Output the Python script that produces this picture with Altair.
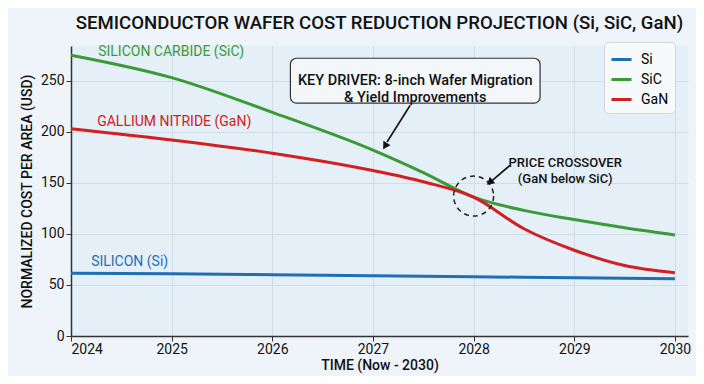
import altair as alt
import pandas as pd

years = [2024, 2025, 2026, 2027, 2027.5, 2028, 2028.5, 2029, 2029.5, 2030]
si = [61.5, 61, 60, 59, 58.5, 58, 57.5, 57, 56.5, 56]
sic = [275, 253, 219, 182, 160, 136, 123, 114, 106, 99]
gan = [203, 192, 179, 162, 151, 136, 105, 84, 69, 62]
series = ["Si", "SiC", "GaN"]
colors = ["#1f6fb4", "#3a9a35", "#d02020"]

rows = []
for name, vals in zip(series, [si, sic, gan]):
    for x, v in zip(years, vals):
        rows.append({"year": x, "cost": v, "series": name})
df = pd.DataFrame(rows)

FONT = "Roboto"

xs = alt.Scale(domain=[2024, 2030.13], nice=False, zero=False)
ys = alt.Scale(domain=[0, 284], nice=False)

lines = alt.Chart(df).mark_line(strokeWidth=3, interpolate="monotone").encode(
    x=alt.X("year:Q", scale=xs,
            axis=alt.Axis(values=[2024, 2025, 2026, 2027, 2028, 2029, 2030], format="d",
                          title="TIME (Now - 2030)", titlePadding=2, labelPadding=1)),
    y=alt.Y("cost:Q", scale=ys,
            axis=alt.Axis(values=[0, 50, 100, 150, 200, 250],
                          title="NORMALIZED COST PER AREA (USD)", titlePadding=6)),
    color=alt.Color("series:N", scale=alt.Scale(domain=series, range=colors),
                    legend=alt.Legend(title=None, orient="none", legendX=533, legendY=-4,
                                      symbolType="stroke", symbolStrokeWidth=3, symbolSize=400,
                                      labelFontSize=14, labelFont=FONT, fillColor="#f7fafc",
                                      strokeColor="#cfd6dc", cornerRadius=4, padding=6,
                                      rowPadding=1, labelOffset=8)),
)

# series labels
lab_txt = ["SILICON CARBIDE (SiC)", "GALLIUM NITRIDE (GaN)", "SILICON (Si)"]
lab_x = [2024.27, 2024.26, 2024.2]
lab_y = [278, 210, 72]
lab_c = ["#3a9a35", "#d02020", "#1f6fb4"]
labels = alt.Chart(pd.DataFrame({"t": lab_txt, "x": lab_x, "y": lab_y, "c": lab_c})).mark_text(
    align="left", baseline="middle", fontSize=14, font=FONT
).encode(x=alt.X("x:Q", scale=xs), y=alt.Y("y:Q", scale=ys), text="t:N",
         color=alt.Color("c:N", scale=None))

# key driver box
box = alt.Chart(pd.DataFrame({"x": [2026.18], "x2": [2028.66], "y": [272], "y2": [228]})).mark_rect(
    fill="#f4f7fa", stroke="#333333", strokeWidth=1.2, cornerRadius=6
).encode(x=alt.X("x:Q", scale=xs), x2="x2:Q", y=alt.Y("y:Q", scale=ys), y2="y2:Q")

box_text = alt.Chart(pd.DataFrame({"x": [2027.42], "y": [250],
                                   "t": ["KEY DRIVER: 8-inch Wafer Migration\n& Yield Improvements"]})).mark_text(
    align="center", baseline="middle", fontSize=14.5, font=FONT, fontWeight=500, lineBreak="\n",
    lineHeight=17, color="#111111"
).encode(x=alt.X("x:Q", scale=xs), y=alt.Y("y:Q", scale=ys), text="t:N")

cross_text = alt.Chart(pd.DataFrame({"x": [2028.91], "y": [169],
                                     "t": ["PRICE CROSSOVER\n(GaN below SiC)"]})).mark_text(
    align="center", baseline="middle", fontSize=13, font=FONT, fontWeight=500, lineBreak="\n",
    lineHeight=16, color="#111111"
).encode(x=alt.X("x:Q", scale=xs), y=alt.Y("y:Q", scale=ys), text="t:N")

circle = alt.Chart(pd.DataFrame({"x": [2028.0], "y": [137]})).mark_point(
    shape="circle", size=1600, filled=False, stroke="#222222", strokeWidth=1.5, strokeDash=[5, 4], opacity=1
).encode(x=alt.X("x:Q", scale=xs), y=alt.Y("y:Q", scale=ys))

# arrows
arr = pd.DataFrame({"x": [2027.37, 2028.36], "y": [226, 167], "x2": [2027.14, 2028.18], "y2": [190, 152],
                    "hx": [2027.12, 2028.16], "hy": [186, 150.5], "ang": [212, 230]})
shafts = alt.Chart(arr).mark_rule(color="#111111", strokeWidth=1.6).encode(
    x=alt.X("x:Q", scale=xs), y=alt.Y("y:Q", scale=ys), x2="x2:Q", y2="y2:Q")
heads = alt.Chart(arr).mark_point(shape="triangle-up", filled=True, size=70, color="#111111", opacity=1).encode(
    x=alt.X("hx:Q", scale=xs), y=alt.Y("hy:Q", scale=ys), angle=alt.Angle("ang:Q", scale=None))

chart = alt.layer(box, box_text, lines, labels, circle, shafts, heads, cross_text).properties(
    width=617, height=290,
    autosize=alt.AutoSizeParams(type="none"),
    padding={"left": 63, "top": 38, "right": 8, "bottom": 40},
    background="#eef4f9",
    title=alt.Title("SEMICONDUCTOR WAFER COST REDUCTION PROJECTION (Si, SiC, GaN)",
                    fontSize=18.6, font=FONT, fontWeight=500, color="#111111", anchor="middle", offset=9),
).configure_view(fill="#e5eff8", stroke=None).configure_axis(
    labelFont=FONT, titleFont=FONT, labelFontSize=14, titleFontSize=14, titleFontWeight=500,
    labelColor="#111111", titleColor="#111111", domainColor="#333333", tickColor="#333333",
    gridColor="#d3dce4", domainWidth=1.5, tickSize=5,
)

chart.save("out.html", embed_options={"renderer": "svg", "actions": False})
